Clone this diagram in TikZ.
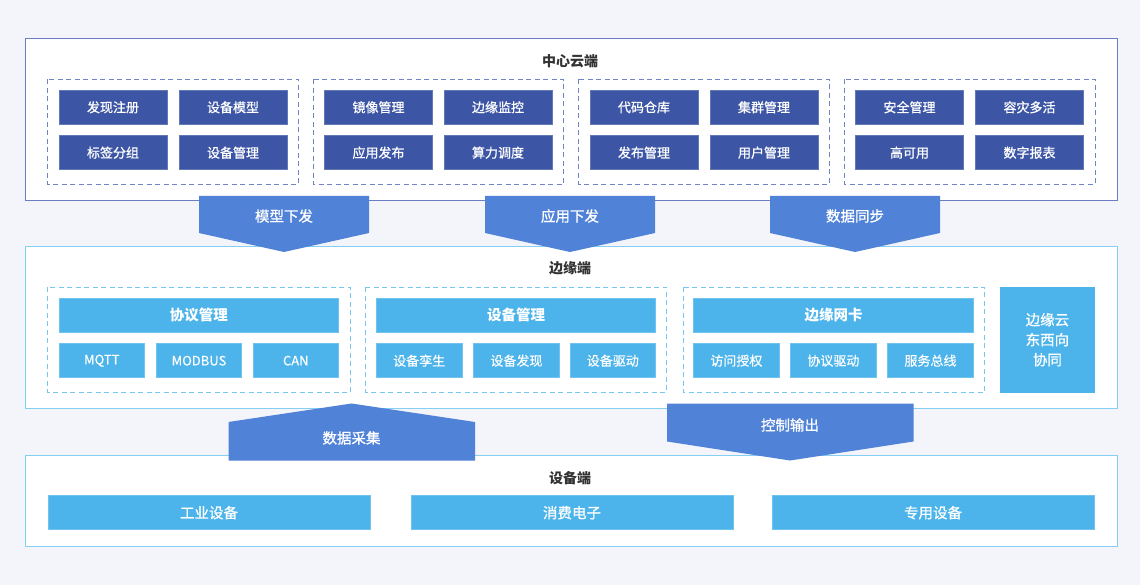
\documentclass[tikz,border=0pt]{standalone}
\usepackage{fontspec}
\setmainfont{Noto Sans CJK SC}
\newfontfamily\medfont{Noto Sans CJK SC}[FakeBold=0.9]
\newfontfamily\litefont{Noto Sans CJK SC}[FakeBold=0.4]
\begin{document}
\begin{tikzpicture}[x=1pt,y=-1pt,
  every node/.style={inner sep=0pt,outer sep=0pt},
  title/.style={font=\fontsize{14}{16}\selectfont\bfseries, text=titlecol},
  dbox/.style={fill=darkbox, draw=darkbox!80!white, line width=0.6pt, text=white, minimum width=108pt, minimum height=34pt, font=\medfont\fontsize{13}{15}\selectfont},
  lhead/.style={fill=lightbox, draw=lightbox!80!white, line width=0.6pt, text=white, minimum width=279.5pt, minimum height=34pt, font=\fontsize{14.5}{16}\selectfont\bfseries},
  lsub/.style={fill=lightbox, draw=lightbox!80!white, line width=0.6pt, text=white, minimum width=85.5pt, minimum height=34pt, font=\litefont\fontsize{13}{15}\selectfont},
  dev/.style={fill=lightbox, draw=lightbox!80!white, line width=0.6pt, text=white, minimum width=322pt, minimum height=34pt, font=\medfont\fontsize{14.5}{16}\selectfont},
  cloudgrp/.style={draw=clouddash, line width=0.8pt, dash pattern=on 5pt off 3.5pt},
  edgegrp/.style={draw=edgedash, line width=0.8pt, dash pattern=on 5pt off 3.5pt},
  flow/.style={fill=arrowcol},
  flowtext/.style={text=white, font=\medfont\fontsize{14.5}{16}\selectfont}
]
\definecolor{bgcol}{HTML}{F4F5FA}
\definecolor{cloudborder}{HTML}{6A7DC2}
\definecolor{clouddash}{HTML}{7084C6}
\definecolor{darkbox}{HTML}{3C56A5}
\definecolor{arrowcol}{HTML}{5082D8}
\definecolor{edgeborder}{HTML}{84CFF3}
\definecolor{edgedash}{HTML}{76C6EF}
\definecolor{lightbox}{HTML}{4DB4EB}
\definecolor{titlecol}{HTML}{333333}

\fill[bgcol] (0,0) rectangle (1140,585);
\useasboundingbox (0,0) rectangle (1140,585);

% ---------- Cloud layer ----------
\draw[cloudborder, fill=white, line width=0.8pt] (25,38.5) rectangle (1117,200.5);
\node[title] (cloudtitle) at (570,61) {中心云端};
\draw[cloudgrp] (47.5,79.5) rectangle (298.5,184.5);
\draw[cloudgrp] (313,79.5) rectangle (563.5,184.5);
\draw[cloudgrp] (578.5,79.5) rectangle (829,184.5);
\draw[cloudgrp] (844,79.5) rectangle (1095,184.5);

\node[dbox] (c11) at (113,107.3) {发现注册};
\node[dbox] (c12) at (233,107.3) {设备模型};
\node[dbox] (c13) at (113,152.7) {标签分组};
\node[dbox] (c14) at (233,152.7) {设备管理};
\node[dbox] (c21) at (378.5,107.3) {镜像管理};
\node[dbox] (c22) at (498,107.3) {边缘监控};
\node[dbox] (c23) at (378.5,152.7) {应用发布};
\node[dbox] (c24) at (498,152.7) {算力调度};
\node[dbox] (c31) at (644,107.3) {代码仓库};
\node[dbox] (c32) at (764,107.3) {集群管理};
\node[dbox] (c33) at (644,152.7) {发布管理};
\node[dbox] (c34) at (764,152.7) {用户管理};
\node[dbox] (c41) at (909.5,107.3) {安全管理};
\node[dbox] (c42) at (1029.5,107.3) {容灾多活};
\node[dbox] (c43) at (909.5,152.7) {高可用};
\node[dbox] (c44) at (1029.5,152.7) {数字报表};

% ---------- Edge layer ----------
\draw[edgeborder, fill=white, line width=0.8pt] (25,246.5) rectangle (1117,408);
\node[title] (edgetitle) at (570,268.5) {边缘端};
\draw[edgegrp] (47.5,287) rectangle (350,392);
\draw[edgegrp] (365.5,287) rectangle (666.5,392);
\draw[edgegrp] (683,287) rectangle (984.5,392);

\node[lhead] (e1h) at (198.8,315) {协议管理};
\node[lsub] (e11) at (101.8,360.7) {MQTT};
\node[lsub] (e12) at (199,360.7) {MODBUS};
\node[lsub] (e13) at (295.8,360.7) {CAN};
\node[lhead] (e2h) at (516,315) {设备管理};
\node[lsub] (e21) at (419.2,360.7) {设备孪生};
\node[lsub] (e22) at (516.4,360.7) {设备发现};
\node[lsub] (e23) at (612.8,360.7) {设备驱动};
\node[lhead] (e3h) at (833.5,315) {边缘网卡};
\node[lsub] (e31) at (736.4,360.7) {访问授权};
\node[lsub] (e32) at (833.4,360.7) {协议驱动};
\node[lsub] (e33) at (930.5,360.7) {服务总线};
\node[fill=lightbox, text=white, minimum width=94.8pt, minimum height=106pt, align=center, font=\medfont\fontsize{14.5}{20}\selectfont] (e4) at (1047.4,339.7) {边缘云\\东西向\\协同};

% ---------- Device layer ----------
\draw[edgeborder, fill=white, line width=0.8pt] (25,455.5) rectangle (1117,546.5);
\node[title] (devtitle) at (570,478.5) {设备端};
\node[dev] (d1) at (209,512.7) {工业设备};
\node[dev] (d2) at (572,512.7) {消费电子};
\node[dev] (d3) at (933,512.7) {专用设备};

% ---------- Flow arrows ----------
\fill[flow] (199,196) -- (369,196) -- (369,233) -- (284,252) -- (199,233) -- cycle;
\node[flowtext] (f1) at (284,216) {模型下发};
\fill[flow] (485,196) -- (655,196) -- (655,233) -- (570,252) -- (485,233) -- cycle;
\node[flowtext] (f2) at (570,216) {应用下发};
\fill[flow] (770,196) -- (940,196) -- (940,233) -- (855,252) -- (770,233) -- cycle;
\node[flowtext] (f3) at (855,216) {数据同步};

\fill[flow] (228.5,422) -- (351.5,403.5) -- (475,422) -- (475,460.5) -- (228.5,460.5) -- cycle;
\node[flowtext] (f4) at (351.5,438) {数据采集};
\fill[flow] (667,403.5) -- (913.5,403.5) -- (913.5,441.5) -- (790,460.5) -- (667,441.5) -- cycle;
\node[flowtext] (f5) at (790,425) {控制输出};
\end{tikzpicture}
\end{document}
